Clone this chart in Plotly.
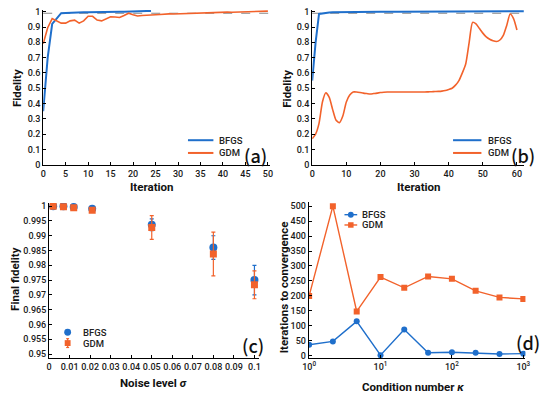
import plotly.graph_objects as go

BLUE = "#1f6fcb"
ORANGE = "#f2622b"
FONT = "Roboto"
PFONT = "Noto Sans CJK JP"

# panel (a)
a_bfgs_iter = list(range(25))
a_bfgs_fid = [0.35, 0.70, 0.92, 0.955, 0.99, 0.992, 0.994, 0.995, 0.996, 0.997,
              0.997, 0.998, 0.998, 0.999, 0.999, 0.999, 1.0, 1.0, 1.0, 1.0,
              1.001, 1.002, 1.003, 1.004, 1.005]
a_gdm_iter = list(range(51))
a_gdm_fid = [0.79, 0.895, 0.955, 0.94, 0.925, 0.925, 0.94, 0.945, 0.925, 0.94,
             0.97, 0.97, 0.945, 0.94, 0.955, 0.967, 0.965, 0.962, 0.975, 0.99,
             0.98, 0.972, 0.975, 0.978, 0.98, 0.98, 0.982, 0.985, 0.986, 0.985,
             0.986, 0.988, 0.99, 0.99, 0.991, 0.992, 0.994, 0.996, 0.995, 0.996,
             0.997, 0.997, 0.996, 0.997, 0.998, 0.998, 0.999, 1.0, 1.0, 1.002, 1.004]

# panel (b)
b_bfgs_iter = [0, 1, 2, 3, 4, 5, 6, 8, 10, 12, 15, 20, 25, 30, 40, 50, 62]
b_bfgs_fid = [0.55, 0.80, 0.985, 0.99, 0.993, 0.995, 0.996, 0.997, 0.998, 0.998,
              0.999, 1.0, 1.0, 1.001, 1.002, 1.002, 1.003]
b_gdm_iter = list(range(61))
b_gdm_fid = [0.17, 0.2, 0.27, 0.41, 0.47, 0.44, 0.36, 0.29, 0.275, 0.32,
             0.41, 0.455, 0.475, 0.475, 0.472, 0.468, 0.465, 0.462, 0.465, 0.468,
             0.472, 0.474, 0.475, 0.475, 0.475, 0.475, 0.475, 0.475, 0.475, 0.475,
             0.475, 0.475, 0.475, 0.475, 0.476, 0.477, 0.478, 0.479, 0.481, 0.485,
             0.492, 0.50, 0.52, 0.55, 0.60, 0.66, 0.80, 0.93, 0.92, 0.89,
             0.86, 0.835, 0.82, 0.81, 0.805, 0.815, 0.845, 0.91, 0.985, 0.955, 0.88]
threshold = 0.99

# panel (c)
noise = [0.002, 0.007, 0.012, 0.021, 0.05, 0.08, 0.1]
c_bfgs = [1.0, 0.99995, 0.9997, 0.9991, 0.9937, 0.986, 0.975]
c_bfgs_err = [0, 0, 0, 0.0002, 0.002, 0.004, 0.005]
c_gdm = [0.99995, 0.9998, 0.9995, 0.9986, 0.9928, 0.9838, 0.9734]
c_gdm_err = [0.0001, 0.0001, 0.0002, 0.0003, 0.004, 0.0074, 0.0047]

# panel (d)
kappa = [1, 2.15, 4.64, 10, 21.5, 46.4, 100, 215, 464, 1000]
d_bfgs = [37, 48, 115, 2, 88, 10, 12, 10, 6, 7]
d_gdm = [200, 500, 148, 263, 227, 265, 257, 217, 195, 190]

series_names = ["BFGS", "GDM"]


def px(x):
    return x / 550


def py(y):
    return 1 - y / 401


fig = go.Figure()

# (a)
fig.add_trace(go.Scatter(x=a_bfgs_iter, y=a_bfgs_fid, mode="lines", name="BFGS",
                         line=dict(color=BLUE, width=2), xaxis="x", yaxis="y"))
fig.add_trace(go.Scatter(x=a_gdm_iter, y=a_gdm_fid, mode="lines", name="GDM",
                         line=dict(color=ORANGE, width=1.6), xaxis="x", yaxis="y"))
# (b)
fig.add_trace(go.Scatter(x=b_bfgs_iter, y=b_bfgs_fid, mode="lines", name="BFGS",
                         line=dict(color=BLUE, width=2), xaxis="x2", yaxis="y2"))
fig.add_trace(go.Scatter(x=b_gdm_iter, y=b_gdm_fid, mode="lines", name="GDM",
                         line=dict(color=ORANGE, width=1.6, shape="spline", smoothing=0.6),
                         xaxis="x2", yaxis="y2"))
# (c)
fig.add_trace(go.Scatter(x=noise, y=c_bfgs, mode="markers", name="BFGS",
                         marker=dict(color=BLUE, size=8, symbol="circle"),
                         error_y=dict(type="data", array=c_bfgs_err, color=BLUE, thickness=1.2, width=2),
                         xaxis="x3", yaxis="y3"))
fig.add_trace(go.Scatter(x=noise, y=c_gdm, mode="markers", name="GDM",
                         marker=dict(color=ORANGE, size=7, symbol="square"),
                         error_y=dict(type="data", array=c_gdm_err, color=ORANGE, thickness=1.2, width=2),
                         xaxis="x3", yaxis="y3"))
# (d)
fig.add_trace(go.Scatter(x=kappa, y=d_bfgs, mode="lines+markers", name="BFGS",
                         line=dict(color=BLUE, width=1.4), marker=dict(color=BLUE, size=6),
                         xaxis="x4", yaxis="y4"))
fig.add_trace(go.Scatter(x=kappa, y=d_gdm, mode="lines+markers", name="GDM",
                         line=dict(color=ORANGE, width=1.4), marker=dict(color=ORANGE, size=6, symbol="square"),
                         xaxis="x4", yaxis="y4"))

for xa, ya in [("x", "y"), ("x2", "y2")]:
    fig.add_shape(type="line", xref=xa + " domain", yref=ya, x0=0, x1=1,
                  y0=threshold, y1=threshold, line=dict(color="#888888", width=1.2, dash="dash"),
                  layer="below")

axis_common = dict(showline=True, linecolor="black", linewidth=1, ticks="inside",
                   ticklen=3, tickcolor="black", showgrid=False, zeroline=False,
                   tickangle=0,
                   tickfont=dict(family=FONT, size=9, color="#1a1a1a", weight=500))

fig.update_layout(
    width=550, height=401, margin=dict(l=0, r=0, t=0, b=0),
    paper_bgcolor="white", plot_bgcolor="white", showlegend=False,
    font=dict(family=FONT, color="#222"),
    xaxis=dict(domain=[px(37), px(269)], range=[0, 50.5], dtick=5, anchor="y", **axis_common),
    yaxis=dict(domain=[py(165), py(7)], range=[0, 1.012], dtick=0.1, anchor="x", **axis_common),
    xaxis2=dict(domain=[px(312), px(529)], range=[0, 62.2], dtick=10, anchor="y2", **axis_common),
    yaxis2=dict(domain=[py(165), py(7)], range=[0, 1.012], dtick=0.1, anchor="x2", **axis_common),
    xaxis3=dict(domain=[px(43), px(258)], range=[0, 0.1024], dtick=0.01, anchor="y3", **axis_common),
    yaxis3=dict(domain=[py(362.7), py(204)], range=[0.9485, 1.0011], dtick=0.005, anchor="x3", **axis_common),
    xaxis4=dict(domain=[px(308.5), px(530)], type="log", range=[-0.005, 3.03], anchor="y4",
                tickvals=[1, 10, 100, 1000],
                ticktext=["10<sup>0</sup>", "10<sup>1</sup>", "10<sup>2</sup>", "10<sup>3</sup>"],
                **axis_common),
    yaxis4=dict(domain=[py(362.7), py(203.3)], range=[-9, 513], dtick=50, anchor="x4", **axis_common),
)

# hand-placed legends (rows are tighter than plotly's legend allows)
leg_font = dict(family=FONT, size=9.5, color="#222", weight=500)
colors = [BLUE, ORANGE]


def legend_text(x, y, text):
    fig.add_annotation(text=text, x=px(x), y=py(y), xref="paper", yref="paper",
                       showarrow=False, font=leg_font, xanchor="left", yanchor="middle")


def legend_line(x0, x1, y, color, width):
    fig.add_shape(type="line", xref="paper", yref="paper", x0=px(x0), x1=px(x1),
                  y0=py(y), y1=py(y), line=dict(color=color, width=width))


# (a) and (b): plain lines
for lx0, lx1, tx in [(185, 211, 215), (456, 485, 490)]:
    for name, color, ly in zip(series_names, colors, [140, 153]):
        legend_line(lx0, lx1, ly, color, 2)
        legend_text(tx, ly, name)

# (c): circle, square with error bar
cx = 62
fig.add_shape(type="circle", xref="paper", yref="paper", x0=px(cx - 3.5), x1=px(cx + 3.5),
              y0=py(336 + 3.5), y1=py(336 - 3.5), fillcolor=BLUE, line=dict(width=0))
fig.add_shape(type="line", xref="paper", yref="paper", x0=px(cx), x1=px(cx),
              y0=py(351.5), y1=py(342.5), line=dict(color=ORANGE, width=1.2))
for yy in (342.5, 351.5):
    legend_line(cx - 1.5, cx + 1.5, yy, ORANGE, 1.2)
fig.add_shape(type="rect", xref="paper", yref="paper", x0=px(cx - 3), x1=px(cx + 3),
              y0=py(347 + 3), y1=py(347 - 3), fillcolor=ORANGE, line=dict(width=0))
legend_text(76, 336, "BFGS")
legend_text(76, 347, "GDM")

# (d): line with marker
for name, color, ly in zip(series_names, colors, [216, 226.5]):
    legend_line(345, 358, ly, color, 1.4)
    if name == "BFGS":
        fig.add_shape(type="circle", xref="paper", yref="paper", x0=px(348.5), x1=px(354.5),
                      y0=py(ly + 3), y1=py(ly - 3), fillcolor=color, line=dict(width=0))
    else:
        fig.add_shape(type="rect", xref="paper", yref="paper", x0=px(348.7), x1=px(354.3),
                      y0=py(ly + 2.8), y1=py(ly - 2.8), fillcolor=color, line=dict(width=0))
    legend_text(361, ly, name)

title_font = dict(family=FONT, size=11.5, color="#111", weight="bold")
titles = [
    ("Iteration", 148, 188, 0),
    ("Fidelity", 10, 87, -90),
    ("Iteration", 421.7, 188, 0),
    ("Fidelity", 286.7, 87, -90),
    ("Final fidelity", 8, 281.7, -90),
    ("Noise level <i>σ</i>", 150, 388, 0),
    ("Iterations to convergence", 283.3, 290, -90),
    ("Condition number <i>κ</i>", 415, 391.5, 0),
]
for text, x, y, ang in titles:
    fig.add_annotation(text=text, x=px(x), y=py(y), xref="paper", yref="paper",
                       showarrow=False, textangle=ang, font=title_font,
                       xanchor="center", yanchor="middle")

panel_font = dict(family=PFONT, size=18, color="#111", weight=500)
panels = [("(a)", 268, 155), ("(b)", 542, 155), ("(c)", 265, 349), ("(d)", 547, 346)]
for text, x, y in panels:
    fig.add_annotation(text=text, x=px(x), y=py(y), xref="paper", yref="paper",
                       showarrow=False, font=panel_font, xanchor="right", yanchor="middle")

# the page's default body margin would push the 550x401 figure off the window
fig.write_html("out.html", config={"displayModeBar": False},
               post_script="document.body.style.margin='0';")
